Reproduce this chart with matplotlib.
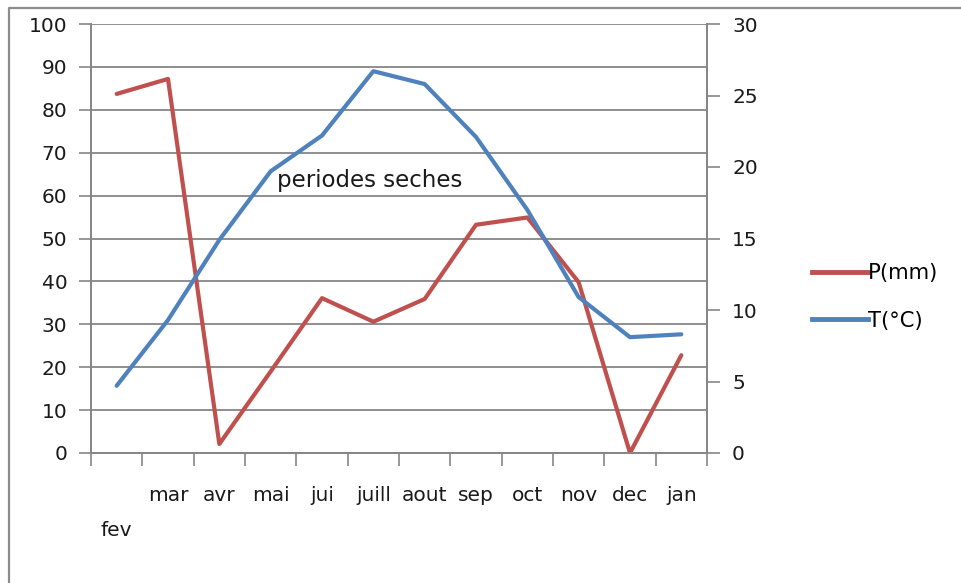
import matplotlib
matplotlib.use("Agg")
import matplotlib.pyplot as plt
from matplotlib.lines import Line2D

months = ["fev", "mar", "avr", "mai", "jui", "juill", "aout", "sep", "oct", "nov", "dec", "jan"]
precip_mm = [83.7, 87.2, 2.1, 19.0, 36.1, 30.6, 35.9, 53.2, 54.9, 39.8, 0.0, 22.8]
temp_c = [4.7, 9.3, 14.9, 19.7, 22.2, 26.7, 25.8, 22.1, 17.0, 10.9, 8.1, 8.3]
left_ticks = [0, 10, 20, 30, 40, 50, 60, 70, 80, 90, 100]
right_ticks = [0, 5, 10, 15, 20, 25, 30]
annotation = "periodes seches"

plt.rcParams['font.family'] = ['DejaVu Sans']
FS = 14.5
RED = "#C0504D"
BLUE = "#4F81BD"
GRID = "#868686"
TXT = "#1a1a1a"

fig = plt.figure(figsize=(9.61, 5.83), dpi=100)
# outer chart frame (left and top edges visible)
fig.lines.append(Line2D([9/961, 9/961, 1.0], [0.0, 1 - 8/583, 1 - 8/583],
                        transform=fig.transFigure, color="#8c8c8c", linewidth=1.6))

ax = fig.add_axes([91/961, 130/583, 616/961, 429/583])
ax2 = ax.twinx()

n = len(months)
xs = list(range(n))
ax.set_xlim(-0.5, n - 0.5)
ax.set_ylim(0, 100)
ax2.set_ylim(0, 30)

for v in left_ticks:
    ax.axhline(v, color=GRID, linewidth=1.3, zorder=0)

ax.plot(xs, precip_mm, color=RED, linewidth=3.0, solid_capstyle='round', zorder=3)
ax2.plot(xs, temp_c, color=BLUE, linewidth=3.0, solid_capstyle='round', zorder=3)

ax.set_yticks(left_ticks)
ax2.set_yticks(right_ticks)
ax.set_xticks(xs)
ax.set_xticklabels(months)
ax.tick_params(axis='x', length=0, pad=24, labelsize=FS, colors=TXT)
ax.set_xticks([i - 0.5 for i in range(n + 1)], minor=True)
ax.tick_params(axis='x', which='minor', length=9, width=1.2, color=GRID, direction='out')
ticks = ax.xaxis.get_major_ticks()
ticks[0].set_pad(24 + 25)
ax.tick_params(axis='y', length=9, width=1.2, color=GRID, pad=8, labelsize=FS, labelcolor=TXT)
ax2.tick_params(axis='y', length=9, width=1.2, color=GRID, pad=9, labelsize=FS, labelcolor=TXT)

for a in (ax, ax2):
    a.spines["top"].set_visible(False)
    for s in ("left", "right", "bottom"):
        a.spines[s].set_color(GRID)
        a.spines[s].set_linewidth(1.3)

ax.text(3.13, 63.6, annotation, fontsize=16.5, color=TXT, va='center', ha='left', zorder=4)

handles = [Line2D([], [], color=RED, linewidth=3.5), Line2D([], [], color=BLUE, linewidth=3.5)]
fig.legend(handles, ["P(mm)", "T(°C)"], loc='center left',
           bbox_to_anchor=(793/961, 1 - 297/583), frameon=False, fontsize=15.2,
           handlelength=2.65, handletextpad=0.0, labelspacing=1.3)

fig.savefig("out.png", dpi=100)
